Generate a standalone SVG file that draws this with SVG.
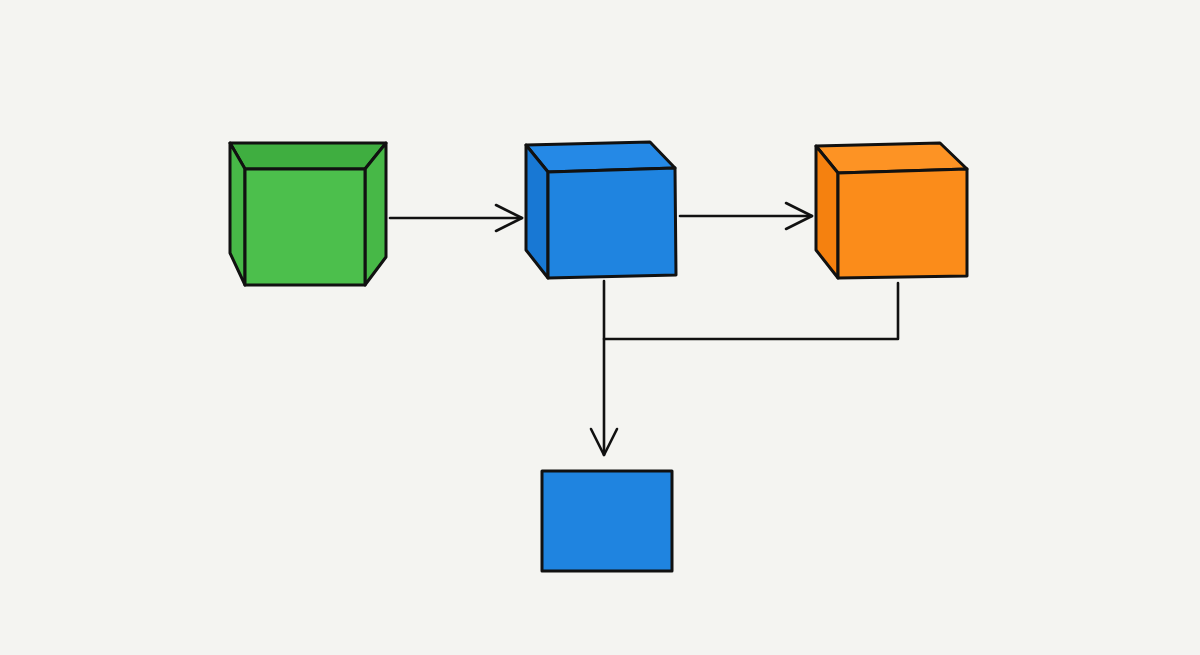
<svg xmlns="http://www.w3.org/2000/svg" width="1200" height="655" viewBox="0 0 1200 655">
<style>
.edge{fill:none;stroke:#111;stroke-width:2.6;stroke-linecap:round;stroke-linejoin:round}
.out{stroke:#111;stroke-width:3;stroke-linejoin:round}
.g1{fill:#47b847}.g2{fill:#3fae40}.g3{fill:#4cbf4c}
.b1{fill:#1f84e0}.b2{fill:#1878d4}.b3{fill:#2589e6}
.o1{fill:#fb8c1a}.o2{fill:#f5810f}.o3{fill:#fd9324}
</style>
<defs>
<marker id="arr" viewBox="0 0 30 30" refX="28" refY="15" markerWidth="30" markerHeight="30" markerUnits="userSpaceOnUse" orient="auto">
<path d="M2,2 L28,15 L2,28" fill="none" stroke="#111" stroke-width="2.6" stroke-linecap="round" stroke-linejoin="round"/>
</marker>
</defs>
<rect width="1200" height="655" fill="#f4f4f1"/>
<g id="node-green">
<polygon class="g2 out" points="230,143 386,143 365,169 245,169"/>
<polygon class="g1 out" points="230,143 245,169 245,285 230,253"/>
<polygon class="g1 out" points="386,143 386,257 365,285 365,169"/>
<polygon class="g3 out" points="245,169 365,169 365,285 245,285"/>
</g>
<g id="node-blue">
<polygon class="b3 out" points="526,145 650,142 675,168 548,172"/>
<polygon class="b2 out" points="526,145 548,172 548,278 526,250"/>
<polygon class="b1 out" points="548,172 675,168 676,275 548,278"/>
</g>
<g id="node-orange">
<polygon class="o3 out" points="816,146 940,143 967,169 838,173"/>
<polygon class="o2 out" points="816,146 838,173 838,278 816,250"/>
<polygon class="o1 out" points="838,173 967,169 967,276 838,278"/>
</g>
<g id="node-bottom">
<rect class="b1 out" x="542" y="471" width="130" height="100"/>
</g>
<g id="connectors">
<path class="edge" d="M390,218 L522,218" marker-end="url(#arr)"/>
<path class="edge" d="M680,216 L812,216" marker-end="url(#arr)"/>
<path class="edge" d="M898,283 L898,339 L604,339"/>
<path class="edge" d="M604,281 L604,455" marker-end="url(#arr)"/>
</g>
</svg>
